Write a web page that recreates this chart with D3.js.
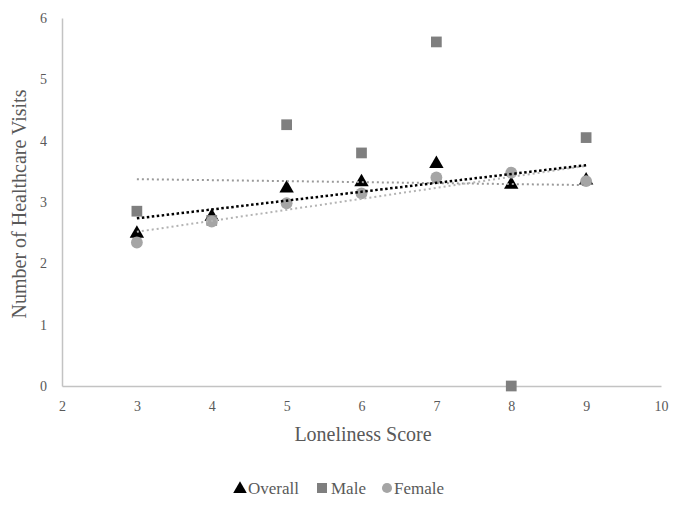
<!DOCTYPE html>
<html>
<head>
<meta charset="utf-8">
<script src="https://cdn.jsdelivr.net/npm/d3@7"></script>
<style>
  html, body { margin: 0; padding: 0; background: #fff; }
  svg { display: block; }
  svg text { font-family: "Liberation Serif", "Times New Roman", serif !important; }
</style>
</head>
<body>
<svg id="chart" width="684" height="507"></svg>
<script>
// ---- data ----
const lonelinessScores = [3, 4, 5, 6, 7, 8, 9];
const overallVisits = [2.50, 2.78, 3.24, 3.34, 3.64, 3.30, 3.37];
const maleVisits    = [2.85, 2.70, 4.26, 3.80, 5.61, 0.00, 4.05];
const femaleVisits  = [2.34, 2.68, 2.98, 3.14, 3.40, 3.48, 3.34];
const seriesNames = ["Overall", "Male", "Female"];
const xTicks = [2, 3, 4, 5, 6, 7, 8, 9, 10];
const yTicks = [0, 1, 2, 3, 4, 5, 6];
const xTitle = "Loneliness Score";
const yTitle = "Number of Healthcare Visits";

const svg = d3.select("#chart");
const x = d3.scaleLinear().domain([2, 10]).range([62, 661]);
const y = d3.scaleLinear().domain([0, 6]).range([386, 18]);

const axisColor = "#c3c3c3";
const textColor = "#595959";
const serif = "Liberation Serif";

// axes
const gx = svg.append("g").attr("transform", `translate(0,${y(0)})`)
  .call(d3.axisBottom(x).tickValues(xTicks).tickSize(0).tickSizeOuter(0).tickPadding(15).tickFormat(d3.format("d")));
gx.attr("font-family", serif);
gx.select(".domain").attr("stroke", axisColor).attr("stroke-width", 1.5);
gx.selectAll("text").attr("fill", textColor).attr("font-family", serif).style("font-size", "14px");

const gy = svg.append("g").attr("transform", `translate(${x(2)},0)`)
  .call(d3.axisLeft(y).tickValues(yTicks).tickSize(0).tickSizeOuter(0).tickPadding(15).tickFormat(d3.format("d")));
gy.attr("font-family", serif);
gy.select(".domain").attr("stroke", axisColor).attr("stroke-width", 1.5);
gy.selectAll("text").attr("fill", textColor).attr("font-family", serif).style("font-size", "14px");

// titles
svg.append("text").attr("x", 363).attr("y", 441).attr("text-anchor", "middle")
  .attr("font-family", serif).attr("fill", textColor).style("font-size", "20px").text(xTitle);
svg.append("text").attr("transform", "translate(26,204) rotate(-90)").attr("text-anchor", "middle")
  .attr("font-family", serif).attr("fill", textColor).style("font-size", "20px").text(yTitle);

// series definitions
const series = [
  { name: seriesNames[0], values: overallVisits, color: "#000000", trend: "#000000", shape: "triangle" },
  { name: seriesNames[1], values: maleVisits, color: "#7f7f7f", trend: "#9a9a9a", shape: "square" },
  { name: seriesNames[2], values: femaleVisits, color: "#a5a5a5", trend: "#b3b3b3", shape: "circle" }
];

function regression(xs, ys) {
  const mx = d3.mean(xs), my = d3.mean(ys);
  let sxy = 0, sxx = 0;
  xs.forEach((v, i) => { sxy += (v - mx) * (ys[i] - my); sxx += (v - mx) * (v - mx); });
  const b = sxy / sxx;
  return v => my + b * (v - mx);
}

function symbolPath(shape, size) {
  const t = shape === "triangle" ? d3.symbolTriangle : shape === "square" ? d3.symbolSquare : d3.symbolCircle;
  return d3.symbol().type(t).size(size)();
}
const sizes = { triangle: 90, square: 115, circle: 110 };

// markers (drawn in series order)
series.forEach(s => {
  svg.append("g").selectAll("path").data(lonelinessScores.map((v, i) => [v, s.values[i]]))
    .join("path")
    .attr("d", symbolPath(s.shape, sizes[s.shape]))
    .attr("transform", d => `translate(${x(d[0])},${y(d[1]) + (s.shape === "triangle" ? 1 : 0)})`)
    .attr("fill", s.color);
});

// trend lines (on top)
const xmin = d3.min(lonelinessScores), xmax = d3.max(lonelinessScores);
[series[1], series[2], series[0]].forEach(s => {
  const f = regression(lonelinessScores, s.values);
  svg.append("line")
    .attr("x1", x(xmin)).attr("y1", y(f(xmin)))
    .attr("x2", x(xmax)).attr("y2", y(f(xmax)))
    .attr("stroke", s.trend)
    .attr("stroke-width", s.shape === "triangle" ? 2.5 : 2)
    .attr("stroke-dasharray", s.shape === "triangle" ? "2.5 2.5" : "2 3");
});

// legend
const legend = [
  { s: series[0], mx: 240, tx: 248 },
  { s: series[1], mx: 322, tx: 331 },
  { s: series[2], mx: 387, tx: 394 }
];
legend.forEach(l => {
  svg.append("path").attr("d", symbolPath(l.s.shape, l.s.shape === "circle" ? 80 : l.s.shape === "square" ? 100 : 80))
    .attr("transform", `translate(${l.mx},${488 + (l.s.shape === "triangle" ? 1 : 0)})`)
    .attr("fill", l.s.color);
  svg.append("text").attr("x", l.tx).attr("y", 494).attr("fill", textColor)
    .attr("font-family", serif).style("font-size", "17px").text(l.s.name);
});
</script>
</body>
</html>
